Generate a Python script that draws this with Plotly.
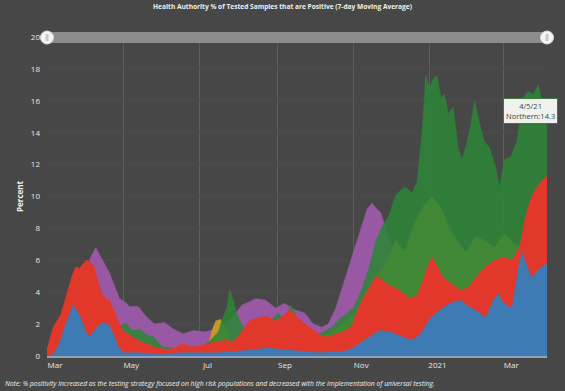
import plotly.graph_objects as go

# ---------------- data ----------------
blue_dates = ["2020-03-01","2020-03-04","2020-03-07","2020-03-11","2020-03-15","2020-03-19","2020-03-22","2020-03-26","2020-03-29",
              "2020-04-01","2020-04-04","2020-04-08","2020-04-11","2020-04-15","2020-04-19","2020-04-23","2020-04-27","2020-05-01",
              "2020-05-15","2020-06-01","2020-06-15","2020-07-01","2020-07-15","2020-08-01","2020-08-15","2020-08-25","2020-09-05",
              "2020-09-20","2020-10-05","2020-10-25","2020-11-01","2020-11-08","2020-11-14","2020-11-22","2020-12-01","2020-12-10",
              "2020-12-18","2020-12-25","2021-01-01","2021-01-08","2021-01-15","2021-01-21","2021-01-26","2021-02-01","2021-02-08",
              "2021-02-15","2021-02-21","2021-02-25","2021-03-01","2021-03-08","2021-03-13","2021-03-16","2021-03-20","2021-03-24",
              "2021-03-29","2021-04-05"]
blue_vals = [0.0,0.0,0.2,0.8,1.8,2.6,3.2,2.7,2.2,
             1.5,1.2,1.6,1.9,2.1,2.0,1.4,0.6,0.2,
             0.2,0.1,0.2,0.2,0.2,0.3,0.4,0.5,0.4,
             0.3,0.2,0.3,0.5,0.9,1.2,1.6,1.5,1.2,
             1.0,1.4,2.3,2.8,3.2,3.4,3.5,3.1,2.8,
             2.4,3.5,3.9,3.3,3.0,5.5,6.5,5.6,4.9,
             5.4,5.8]

red_dates = ["2020-03-01","2020-03-03","2020-03-06","2020-03-09","2020-03-12","2020-03-15","2020-03-18","2020-03-21","2020-03-24",
             "2020-03-27","2020-03-30","2020-04-02","2020-04-05","2020-04-08","2020-04-11","2020-04-14","2020-04-17","2020-04-20",
             "2020-04-24","2020-04-28","2020-05-02","2020-05-08","2020-05-15","2020-05-22","2020-05-29","2020-06-05","2020-06-12",
             "2020-06-17","2020-06-22","2020-06-30","2020-07-08","2020-07-15","2020-07-22","2020-07-27","2020-08-01","2020-08-06",
             "2020-08-10","2020-08-17","2020-08-24","2020-08-31","2020-09-06","2020-09-11","2020-09-15","2020-09-22","2020-09-29",
             "2020-10-06","2020-10-12","2020-10-19","2020-10-26","2020-10-31","2020-11-04","2020-11-08","2020-11-13","2020-11-19",
             "2020-11-24","2020-11-28","2020-12-04","2020-12-10","2020-12-16","2020-12-22","2020-12-27","2020-12-31","2021-01-03",
             "2021-01-07","2021-01-12","2021-01-19","2021-01-26","2021-02-01","2021-02-08","2021-02-15","2021-02-22","2021-03-01",
             "2021-03-08","2021-03-14","2021-03-19","2021-03-24","2021-03-30","2021-04-05"]
red_vals = [0.3,1.0,1.8,2.2,2.6,3.4,4.2,5.0,5.6,
            5.5,5.8,6.0,5.9,5.5,4.6,3.9,3.6,3.5,
            2.8,2.0,1.5,1.2,0.9,0.7,0.5,0.4,0.5,
            0.8,0.6,0.6,0.8,0.9,1.0,0.9,1.2,1.8,
            2.2,2.4,2.5,2.2,2.5,2.9,2.6,2.1,1.7,
            1.3,1.2,1.4,1.6,1.9,2.8,3.5,4.2,5.0,
            4.8,4.5,4.3,4.0,3.6,3.8,4.8,5.7,6.2,
            5.6,4.9,4.5,4.1,4.3,5.0,5.6,6.0,6.2,
            6.0,6.8,8.8,10.1,10.8,11.3]

purple_dates = ["2020-03-01","2020-03-10","2020-03-20","2020-03-30","2020-04-05","2020-04-09","2020-04-11","2020-04-13","2020-04-17",
                "2020-04-20","2020-04-24","2020-04-28","2020-05-02","2020-05-06","2020-05-13","2020-05-19","2020-05-26","2020-06-03",
                "2020-06-10","2020-06-18","2020-06-26","2020-07-05","2020-07-14","2020-07-22","2020-07-29","2020-08-04","2020-08-10",
                "2020-08-15","2020-08-23","2020-08-31","2020-09-07","2020-09-15","2020-09-23","2020-09-30","2020-10-07","2020-10-12",
                "2020-10-18","2020-10-26","2020-11-02","2020-11-07","2020-11-12","2020-11-16","2020-11-19","2020-11-23","2020-11-27",
                "2020-12-03","2020-12-15","2021-01-01","2021-02-01","2021-03-01","2021-04-05"]
purple_vals = [0.5,1.5,3.0,5.0,6.2,6.8,6.5,6.2,5.6,
               5.2,4.4,3.6,3.4,3.1,3.1,2.5,2.0,2.1,
               1.7,1.4,1.6,1.5,1.7,2.0,2.6,3.2,3.4,
               3.6,3.5,3.0,3.3,2.9,2.7,2.0,1.8,2.0,
               3.0,5.0,6.6,8.0,9.2,9.6,9.3,9.0,8.0,
               6.5,5.5,5.5,5.0,5.0,6.0]

orange_dates = ["2020-03-01","2020-04-01","2020-05-01","2020-06-01","2020-07-01","2020-07-08","2020-07-11","2020-07-14","2020-07-18",
                "2020-07-21","2020-07-26","2020-08-01","2020-08-15","2020-09-01","2020-09-15","2020-10-01","2020-10-15","2020-11-01",
                "2020-11-15","2020-11-28","2020-12-05","2020-12-12","2020-12-20","2020-12-28","2021-01-03","2021-01-10","2021-01-17",
                "2021-01-25","2021-01-30","2021-02-07","2021-02-15","2021-02-22","2021-03-02","2021-03-10","2021-03-18","2021-03-25",
                "2021-04-05"]
orange_vals = [0.2,0.4,0.3,0.3,0.3,0.6,1.6,2.2,2.3,
               1.8,1.0,0.7,0.8,1.0,1.0,1.0,1.5,2.5,
               4.5,6.0,7.3,6.5,8.3,9.5,10.0,9.3,8.0,
               7.0,6.5,7.5,7.2,6.8,7.7,7.0,6.8,6.5,
               6.5]

green_dates = ["2020-03-01","2020-03-15","2020-04-01","2020-04-15","2020-04-28","2020-05-03","2020-05-08","2020-05-14","2020-05-20",
               "2020-05-25","2020-06-01","2020-06-15","2020-07-01","2020-07-10","2020-07-16","2020-07-20","2020-07-23","2020-07-25",
               "2020-07-28","2020-07-31","2020-08-05","2020-08-12","2020-08-20","2020-08-28","2020-09-02","2020-09-07","2020-09-12",
               "2020-09-17","2020-09-25","2020-10-05","2020-10-15","2020-10-22","2020-10-26","2020-11-01","2020-11-08","2020-11-14",
               "2020-11-19","2020-11-24","2020-11-29","2020-12-05","2020-12-09","2020-12-13","2020-12-18","2020-12-22","2020-12-26",
               "2020-12-29","2021-01-01","2021-01-04","2021-01-07","2021-01-10","2021-01-13","2021-01-16","2021-01-20","2021-01-24",
               "2021-01-27","2021-01-31","2021-02-03","2021-02-06","2021-02-10","2021-02-14","2021-02-18","2021-02-23","2021-02-26",
               "2021-03-02","2021-03-07","2021-03-12","2021-03-17","2021-03-21","2021-03-25","2021-03-29","2021-04-01","2021-04-05"]
green_vals = [0.0,0.5,1.0,1.5,1.8,2.1,1.6,1.7,1.3,
              1.2,0.6,0.4,0.5,1.0,1.5,2.5,3.0,4.2,
              3.5,2.6,1.8,1.5,1.9,2.3,2.7,2.2,3.2,
              2.4,1.6,1.4,1.8,2.4,2.6,3.0,4.2,5.6,
              7.2,8.1,8.7,10.1,10.4,10.6,10.2,10.9,14.0,
              17.6,16.8,17.4,17.6,16.2,16.4,15.2,15.6,13.0,
              12.3,13.4,14.5,16.0,14.6,13.4,13.1,11.8,10.6,
              12.3,12.5,13.5,16.2,16.6,16.4,17.0,16.0,14.3]

tick_vals = ["2020-03-01","2020-05-01","2020-07-01","2020-09-01","2020-11-01","2021-01-01","2021-03-01"]
tick_text = ["Mar","May","Jul","Sep","Nov","2021","Mar"]
y_ticks = [0,2,4,6,8,10,12,14,16,18,20]

title_text = "Health Authority % of Tested Samples that are Positive (7-day Moving Average)"
note_text = ("Note: % positivity increased as the testing strategy focused on high risk populations "
             "and decreased with the implementation of universal testing.")
tooltip_text = "4/5/21<br>Northern:14.3"

# ---------------- figure ----------------
BG = "#474747"
FONT = "Open Sans"

series = [
    ("Vancouver Island", purple_dates, purple_vals, "rgb(152,88,164)"),
    ("Interior", orange_dates, orange_vals, "rgb(200,150,40)"),
    ("Northern", green_dates, green_vals, "rgba(44,133,56,0.88)"),
    ("Fraser", red_dates, red_vals, "rgb(226,56,44)"),
    ("Vancouver Coastal", blue_dates, blue_vals, "rgb(62,122,180)"),
]

fig = go.Figure()
for name, d, v, c in series:
    fig.add_trace(go.Scatter(
        x=d, y=v, name=name, mode="lines", fill="tozeroy",
        line=dict(color=c, width=0.5), fillcolor=c, hoverinfo="skip",
    ))

fig.update_layout(
    width=565, height=391,
    paper_bgcolor=BG, plot_bgcolor=BG,
    margin=dict(l=47, r=18, t=37, b=35, autoexpand=False),
    showlegend=False,
    font=dict(family=FONT, size=8, color="#e8e8e8"),
    title=dict(text="<b>" + title_text + "</b>", x=0.5, xanchor="center",
               y=0.982, yanchor="middle", font=dict(size=6.6, color="#f0f0f0")),
    xaxis=dict(
        type="date", range=["2020-03-01", "2021-04-05"],
        tickvals=tick_vals, ticktext=tick_text, ticklabelshift=8,
        showgrid=True, gridcolor="#5e5e5e", gridwidth=1,
        showline=True, linecolor="#8ea3ba", linewidth=2,
        ticks="", zeroline=False, automargin=False,
        tickfont=dict(size=8, color="#e8e8e8"),
    ),
    yaxis=dict(
        range=[0, 20], tickvals=y_ticks,
        showgrid=True, gridcolor="#4d4d4d", gridwidth=1,
        zeroline=False, ticks="", ticklabelstandoff=6, automargin=False,
        tickfont=dict(size=8, color="#e8e8e8"),
        title=dict(text="<b>Percent</b>", font=dict(size=8, color="#f0f0f0"), standoff=6),
    ),
    hovermode=False,
)

# scrollbar-like slider on top of the plot area
ph = 319.0
pw = 500.0
fig.add_shape(type="rect", xref="paper", yref="paper", x0=0, x1=1,
              y0=1 - 6 / ph, y1=1 + 5 / ph, fillcolor="#8c8c8c", line=dict(width=0), layer="above")
for xc in (0.0, 1.0):
    fig.add_shape(type="circle", xref="paper", yref="paper",
                  x0=xc - 6.5 / pw, x1=xc + 6.5 / pw, y0=1 - 0.5 / ph - 6.5 / ph, y1=1 - 0.5 / ph + 6.5 / ph,
                  fillcolor="#f4f4f4", line=dict(color="#dddddd", width=1), layer="above")
    fig.add_shape(type="rect", xref="paper", yref="paper",
                  x0=xc - 1.5 / pw, x1=xc + 1.5 / pw, y0=1 - 4 / ph, y1=1 + 3 / ph,
                  fillcolor="#c8c8c8", line=dict(width=0), layer="above")

# tooltip
fig.add_annotation(
    x="2021-04-04", y=14.3, xref="x", yref="y",
    text=tooltip_text, showarrow=True, arrowhead=0, arrowwidth=1, arrowcolor="#3a7d3a",
    ax=-15, ay=-17, bgcolor="#eef1ec", bordercolor="#3a7d3a", borderwidth=1, borderpad=2,
    font=dict(size=7.5, color="#444444", family=FONT), align="center",
)

# note
fig.add_annotation(
    x=0, y=0, xref="paper", yref="paper", xanchor="left", yanchor="middle",
    xshift=-44, yshift=-27,
    text="<i>" + note_text + "</i>", showarrow=False,
    font=dict(size=6.8, color="#f0f0f0", family=FONT),
)

fig.write_html("out.html", config={"displayModeBar": False},
               post_script="document.body.style.margin='0px';")
